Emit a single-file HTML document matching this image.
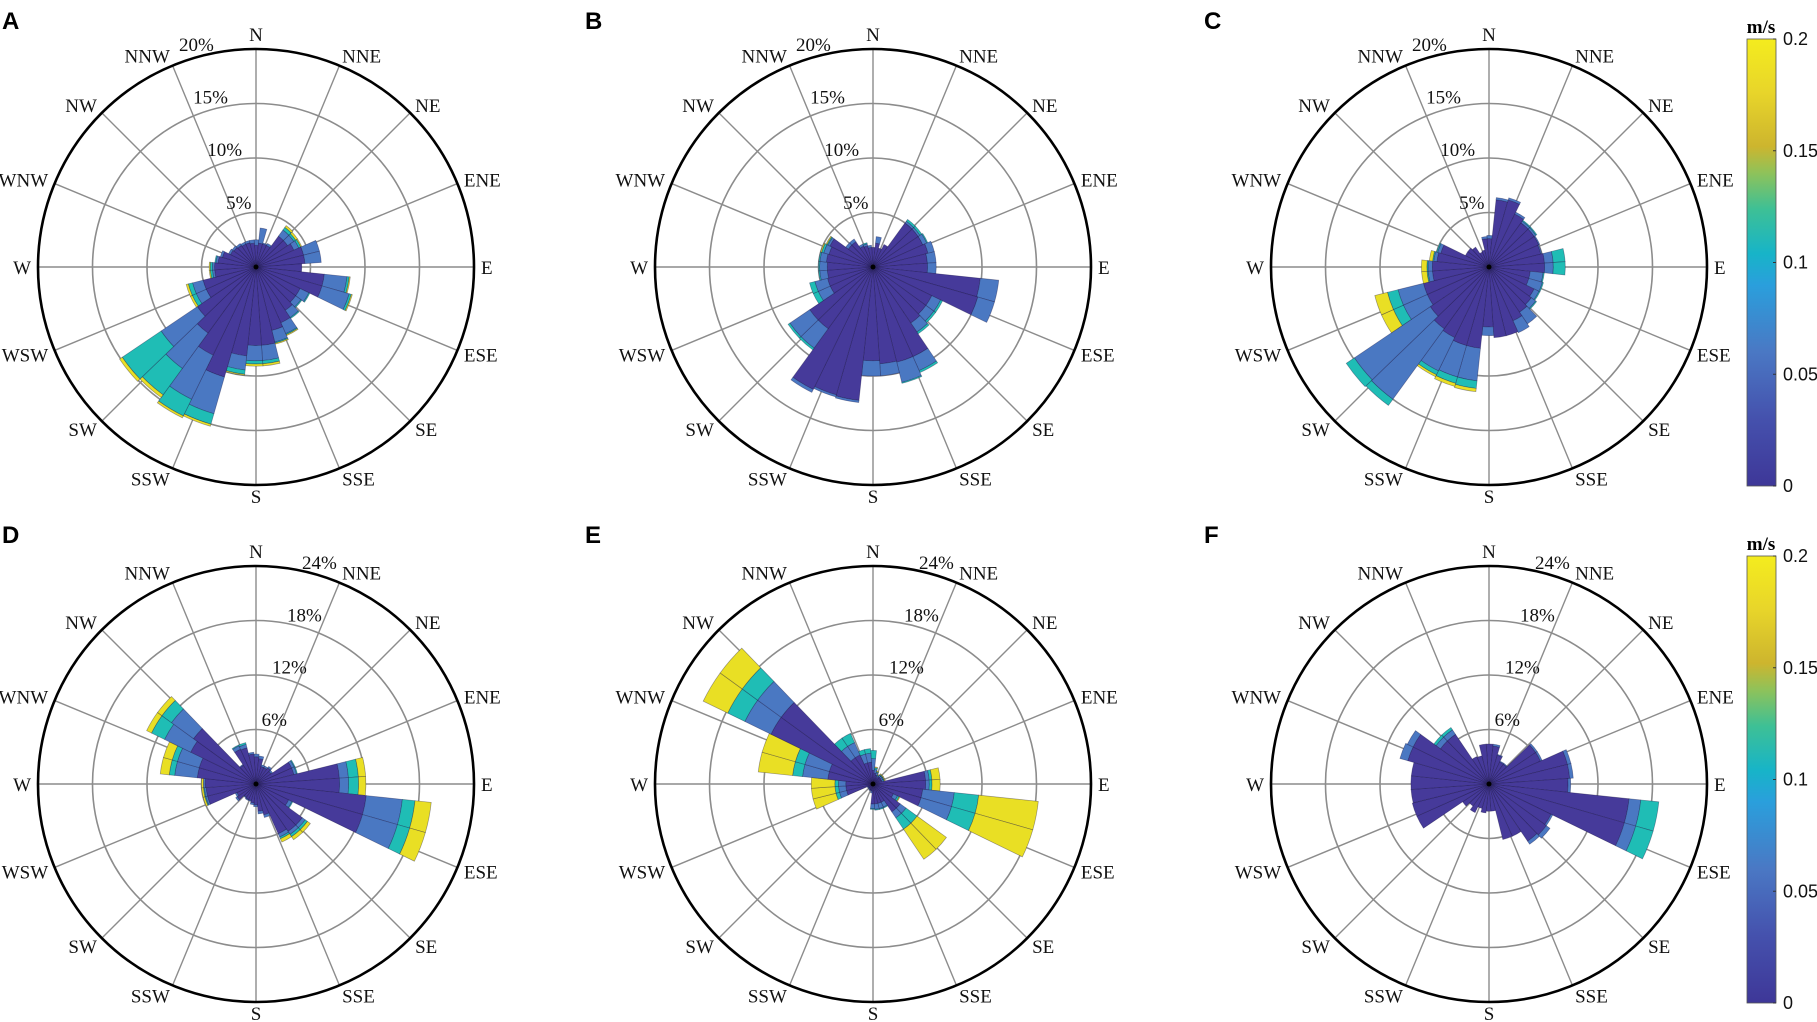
<!DOCTYPE html>
<html><head><meta charset="utf-8">
<style>
html,body{margin:0;padding:0;background:#fff;}
svg{display:block;}
.dl{font-family:"Liberation Serif",serif;font-size:19px;fill:#111;}
.pl{font-family:"Liberation Sans",sans-serif;font-size:24px;font-weight:bold;fill:#000;}
.cb{font-family:"Liberation Sans",sans-serif;font-size:18px;fill:#111;}
</style></head>
<body>
<svg id="fig" width="1817" height="1022" viewBox="0 0 1817 1022" xmlns="http://www.w3.org/2000/svg">
<defs>
<linearGradient id="parula" x1="0" y1="1" x2="0" y2="0">
<stop offset="0" stop-color="#3e3798"/>
<stop offset="0.15" stop-color="#4551ad"/>
<stop offset="0.3" stop-color="#4a78c4"/>
<stop offset="0.45" stop-color="#2a9fdc"/>
<stop offset="0.52" stop-color="#17b4c8"/>
<stop offset="0.62" stop-color="#3ec095"/>
<stop offset="0.7" stop-color="#8ec25a"/>
<stop offset="0.76" stop-color="#cdb52e"/>
<stop offset="0.88" stop-color="#e8d52a"/>
<stop offset="1" stop-color="#f4ec1e"/>
</linearGradient>
</defs>
</svg>
<script>
// sector i covers bearing i*10 (deg, clockwise from N), values in % (cumulative layer ends)
const A_dark=[2,2.2,2.2,2.2,3.5,3.5,3.8,4.5,4.5,4.2,6.3,6.3,4.5,4.5,4.8,5.6,6,7.2,7.2,8.2,10.5,9,7.5,6.5,5,5,3.8,3.8,3.5,3.2,2.6,2.5,2.4,2.3,2.3,2.2];
const A_blue=[2.5,3.6,2.3,2.4,4.2,4.2,4.3,6,6,4.2,8.4,8.9,5.4,5.1,5.6,6.7,7.1,8.6,8.6,9.5,14,13.5,11.5,10.5,6,6,4,4,3.7,3.4,2.8,2.7,2.6,2.5,2.5,2.5];
const A_cyan=[2.5,3.6,2.3,2.4,4.5,4.4,4.5,6,6,4.2,8.6,9.1,5.5,5.2,5.7,6.8,7.2,8.9,8.9,9.9,15,15.2,14.5,14.8,6.4,6.4,4.2,4.2,3.8,3.4,2.8,2.7,2.6,2.5,2.5,2.5];
const A_yel=[2.5,3.6,2.3,2.4,4.7,4.6,4.6,6,6,4.2,8.7,9.2,5.5,5.2,5.7,6.9,7.3,9.1,9.1,10,15.2,15.4,14.8,15.1,6.6,6.6,4.3,4.3,3.8,3.4,2.8,2.7,2.6,2.5,2.5,2.5];

const B_dark=[1.8,2.2,1.8,2.3,5,5,5,5.2,5,5,9.9,10,6,6,6.2,9,9,8.9,8.6,12.3,12.2,12.5,7,7,4.3,4.3,4.2,4.2,4.3,4.2,4.4,2.8,2.8,2.1,2,1.8];
const B_blue=[1.8,2.8,1.8,2.3,5.2,5.2,5.4,5.8,5.8,5.8,11.6,11.6,6.9,6.9,7.2,10.4,10.9,10,10,12.5,12.4,12.8,9.2,9.2,5.5,5.5,4.9,4.9,4.9,4.7,4.6,3.1,3.1,2.3,2.2,2];
const B_cyan=[1.8,2.8,1.8,2.3,5.4,5.4,5.5,5.8,5.8,5.8,11.6,11.6,7.1,7.1,7.4,10.6,11,10,10,12.5,12.4,12.8,9.4,9.4,6,6,5,5,5,4.9,4.7,3.1,3.1,2.3,2.3,2];
const B_yel=[1.8,2.8,1.8,2.3,5.4,5.4,5.5,5.8,5.8,5.8,11.6,11.6,7.1,7.1,7.4,10.6,11,10,10,12.5,12.4,12.8,9.4,9.4,6,6,5,5,5,5,4.8,3.1,3.1,2.3,2.3,2];

const C_dark=[2.6,6.2,6.4,5.4,5,5,5,4.9,5.1,5.1,3.8,3.8,4.6,4.8,5,5.4,6.5,6.5,5.5,7.5,7.5,7.2,7,6.5,6.2,6.2,5.2,5.2,4.8,4.6,2.4,2.4,2.2,1.5,1.6,2.6];
const C_blue=[2.9,6.4,6.6,5.6,5.2,5.2,5.1,5,5.9,5.9,5,5.1,5.1,5.3,6.3,6.6,6.5,6.5,6.3,10.5,10.5,10.6,15,14.9,8.6,8.6,5.6,5.6,5.1,4.9,2.4,2.4,2.2,1.5,1.6,2.8];
const C_cyan=[2.9,6.4,6.6,5.6,5.3,5.3,5.1,5,7,7,5.1,5.2,5.2,5.4,6.3,6.6,6.5,6.5,6.3,11.2,11.1,11,15.7,15.8,9.6,9.6,5.7,5.7,5.2,5,2.4,2.4,2.2,1.5,1.6,2.8];
const C_yel=[2.9,6.4,6.6,5.6,5.3,5.3,5.1,5,7,7,5.1,5.2,5.2,5.4,6.3,6.6,6.5,6.5,6.3,11.5,11.4,11.2,15.7,15.8,10.8,10.8,6.2,6.2,5.5,5,2.4,2.4,2.2,1.5,1.6,2.8];

const D_dark=[3,2.8,2,2,2.2,2,4.3,4.3,9.2,9.2,12.2,12.2,4,6.3,6.3,6,3.5,3,2.3,2.1,1.9,1.9,1.8,2.5,2.3,5.5,5.5,5.6,6.5,6.5,8,8.5,2.5,4.2,4.1,3.3];
const D_blue=[3.3,3.1,2.2,2.2,2.4,2.2,4.6,4.6,10.2,10.2,16.2,16.2,4.4,6.7,6.7,6.4,3.8,3.3,2.5,2.3,2,2,1.9,2.7,2.5,5.7,5.7,5.8,9,9,11.2,11.5,2.6,4.6,4.5,3.5];
const D_cyan=[3.3,3.1,2.2,2.2,2.4,2.2,4.7,4.7,11.3,11.3,17.6,17.6,4.5,7,7,6.6,3.8,3.3,2.5,2.3,2,2,1.9,2.7,2.5,5.8,5.8,5.8,9.6,9.6,12.8,12.8,2.6,4.7,4.7,3.5];
const D_yel=[3.3,3.1,2.2,2.2,2.4,2.2,4.7,4.7,12.1,12.1,19.4,19.4,4.5,7.4,7.4,7,3.8,3.3,2.5,2.3,2,2,1.9,2.7,2.5,6,6,6,10.6,10.6,13.4,13.4,2.6,4.7,4.7,3.5];

const E_dark=[1.5,1.2,1,0.8,1,1,1,1,5.8,5.8,5.5,5.5,2.5,3.7,3.7,2.2,2.2,2.2,2.2,0.8,0.7,0.7,0.6,0.6,0.6,3,3,3,5,5,12.5,12.5,3.5,3.5,2.4,2.4];
const E_blue=[2.8,1.6,1.3,1,1.2,1.2,1.2,1.2,6.2,6.2,9,9,3,4.5,4.5,2.8,2.8,2.8,2.7,1,0.8,0.8,0.7,0.7,0.7,3.8,3.8,3.8,7.8,7.8,15.7,15.7,5,5,3.4,3.4];
const E_cyan=[3.7,1.8,1.4,1.1,1.3,1.3,1.3,1.3,6.5,6.5,11.7,11.7,3.2,6,6,2.9,2.9,2.9,2.8,1,0.8,0.8,0.7,0.7,0.7,4.2,4.2,4.2,8.9,8.9,17.8,17.8,6.1,6.1,3.9,3.9];
const E_yel=[3.7,1.9,1.5,1.2,1.4,1.4,1.4,1.4,7.4,7.4,18.3,18.3,3.3,10,10,2.9,2.9,2.9,2.8,1,0.8,0.8,0.7,0.7,0.7,6.8,6.8,6.8,12.7,12.7,20.8,20.8,6.1,6.1,3.9,3.9];

const F_dark=[4.4,4.2,3.3,2.7,2.7,6.2,6.2,8.9,8.9,8.7,15.5,15.5,7.6,7.8,7.6,6.3,6.3,3,3,3.2,2.8,3.5,3,3.5,8.7,8.7,8.6,8.6,8.6,9.3,9.3,6.6,6.6,3.3,3.2,4.4];
const F_blue=[4.4,4.4,3.4,2.8,2.8,6.4,6.4,9.3,9.3,9,16.8,16.8,7.8,8.3,8,6.3,6.3,3,3,3.2,2.8,3.5,3,3.5,8.7,8.7,8.6,8.6,8.6,10.2,10,7.2,7.2,3.3,3.2,4.4];
const F_cyan=[4.4,4.4,3.4,2.8,2.8,6.4,6.4,9.3,9.3,9,18.8,18.8,7.8,8.3,8,6.3,6.3,3,3,3.2,2.8,3.5,3,3.5,8.7,8.7,8.6,8.6,8.6,10.2,10,7.5,7.5,3.3,3.2,4.4];
const F_yel=[4.4,4.4,3.4,2.8,2.8,6.4,6.4,9.3,9.3,9,18.8,18.8,7.8,8.3,8,6.3,6.3,3,3,3.2,2.8,3.5,3,3.5,8.7,8.7,8.6,8.6,8.6,10.2,10,7.5,7.5,3.3,3.2,4.4];

const dirLabels=["N","NNE","NE","ENE","E","ESE","SE","SSE","S","SSW","SW","WSW","W","WNW","NW","NNW"];
const topRings=[5,10,15,20];
const botRings=[6,12,18,24];
const cbTicks=[0,0.05,0.1,0.15,0.2];
const cbTickLabels=["0","0.05","0.1","0.15","0.2"];

const NS="http://www.w3.org/2000/svg";
const svg=document.getElementById("fig");
function mk(tag,attrs,parent){const e=document.createElementNS(NS,tag);for(const k in attrs)e.setAttribute(k,attrs[k]);(parent||svg).appendChild(e);return e;}
function pt(cx,cy,r,b){const a=b*Math.PI/180;return [cx+r*Math.sin(a),cy-r*Math.cos(a)];}
function wedge(cx,cy,r0,r1,b0,b1){
  const p1=pt(cx,cy,r0,b0),p2=pt(cx,cy,r1,b0),p3=pt(cx,cy,r1,b1),p4=pt(cx,cy,r0,b1);
  return `M${p1[0]},${p1[1]}L${p2[0]},${p2[1]}A${r1},${r1} 0 0 1 ${p3[0]},${p3[1]}L${p4[0]},${p4[1]}`+(r0>0?`A${r0},${r0} 0 0 0 ${p1[0]},${p1[1]}Z`:"Z");
}
const layerColors=["#463a9a","#4a78c2","#1fbdb5","#e9df24"];
const layerNames=["dark","blue","cyan","yellow"];

const panels=[
 {id:"A",cx:256,cy:267,rings:topRings,lb:345,lx:2,ly:29,layers:[A_dark,A_blue,A_cyan,A_yel]},
 {id:"B",cx:873,cy:267,rings:topRings,lb:345,lx:585,ly:29,layers:[B_dark,B_blue,B_cyan,B_yel]},
 {id:"C",cx:1489,cy:267,rings:topRings,lb:345,lx:1204,ly:29,layers:[C_dark,C_blue,C_cyan,C_yel]},
 {id:"D",cx:256,cy:784,rings:botRings,lb:16,lx:2,ly:543,layers:[D_dark,D_blue,D_cyan,D_yel]},
 {id:"E",cx:873,cy:784,rings:botRings,lb:16,lx:585,ly:543,layers:[E_dark,E_blue,E_cyan,E_yel]},
 {id:"F",cx:1489,cy:784,rings:botRings,lb:16,lx:1204,ly:543,layers:[F_dark,F_blue,F_cyan,F_yel]}
];
const R=218;
panels.forEach(p=>{
  const g=mk("g",{});
  
  
  const maxV=p.rings[p.rings.length-1];
  const rs=v=>v/maxV*R;
  const t=mk("text",{x:p.lx,y:p.ly,class:"pl"},g);t.textContent=p.id;
  
  
  p.rings.slice(0,-1).forEach(v=>{
    const c=mk("circle",{cx:p.cx,cy:p.cy,r:rs(v),fill:"none",stroke:"#8c8c8c","stroke-width":1.6},g);
    
    
  });
  for(let k=0;k<16;k++){
    const e=pt(p.cx,p.cy,R,k*22.5);
    const l=mk("line",{x1:p.cx,y1:p.cy,x2:e[0],y2:e[1],stroke:"#8c8c8c","stroke-width":1.4},g);
    
    
  }
  for(let i=0;i<36;i++){
    let prev=0;
    for(let L=0;L<4;L++){
      const v=p.layers[L][i];
      if(v>prev+0.01){
        const path=mk("path",{d:wedge(p.cx,p.cy,rs(prev),rs(v),i*10-5+1,i*10+5+1),fill:layerColors[L],stroke:"rgba(20,15,60,0.4)","stroke-width":0.7},g);
        
        
        prev=v;
      }
    }
  }
  mk("circle",{cx:p.cx,cy:p.cy,r:2.5,fill:"#000"},g);
  const oc=mk("circle",{cx:p.cx,cy:p.cy,r:R,fill:"none",stroke:"#000","stroke-width":2.6},g);
  
  
  dirLabels.forEach((d,k)=>{
    const b=k*22.5, a=b*Math.PI/180;
    const q=pt(p.cx,p.cy,R+7,b);
    const s=Math.sin(a), c=Math.cos(a);
    const anchor=s>0.1?"start":(s<-0.1?"end":"middle");
    const tx=mk("text",{x:q[0],y:q[1]+7-4*c+(Math.abs(s)<0.1&&c>0?-4:0),"text-anchor":anchor,class:"dl"},g);tx.textContent=d;
    
    
  });
  p.rings.forEach(v=>{
    const q=pt(p.cx,p.cy,rs(v)+12,p.lb);
    const tx=mk("text",{x:q[0],y:q[1]+6,"text-anchor":"middle",class:"dl"},g);tx.textContent=v+"%";
    
    
  });
});
[[39,486],[556,1003]].forEach(([y0,y1],n)=>{
  const g=mk("g",{});
  
  
  mk("rect",{x:1747,y:y0,width:29,height:y1-y0,fill:"url(#parula)",stroke:"#555","stroke-width":0.8},g);
  const u=mk("text",{x:1761,y:y0-6,"text-anchor":"middle","font-family":"Liberation Serif,serif","font-weight":"bold","font-size":"19"},g);u.textContent="m/s";
  
  
  cbTicks.forEach((v,k)=>{
    const y=y1-(v/0.2)*(y1-y0);
    mk("line",{x1:1773,y1:y,x2:1776,y2:y,stroke:"#333","stroke-width":1},g);
    const tx=mk("text",{x:1783,y:y+6,class:"cb"},g);tx.textContent=cbTickLabels[k];
    
    
  });
});
</script>
</body></html>
